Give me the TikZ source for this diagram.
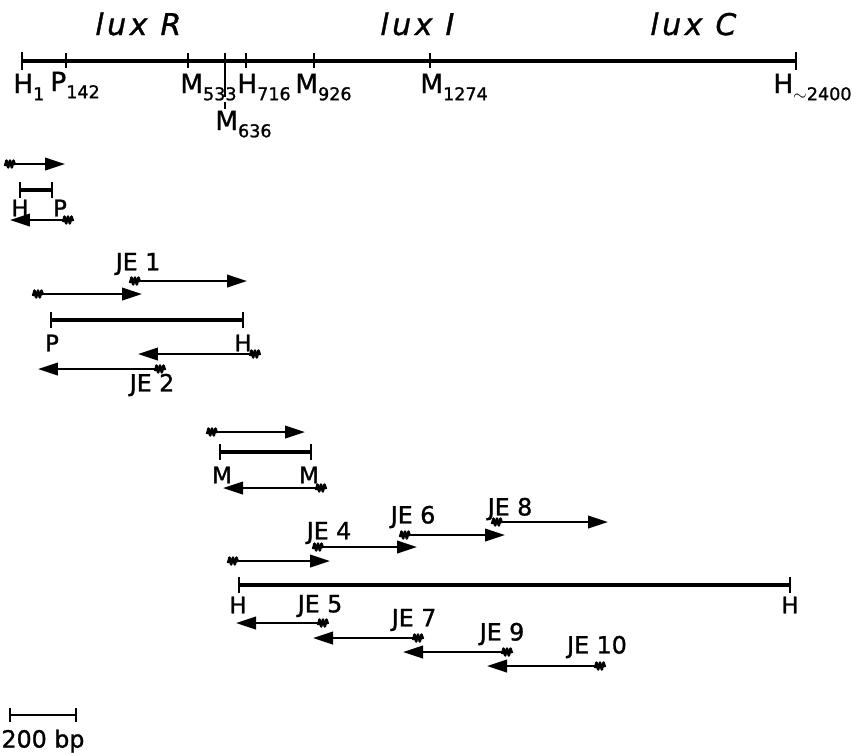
\documentclass[tikz,border=0pt]{standalone}
\usepackage{fontspec}
\setmainfont{DejaVu Sans}[FakeBold=1.2]
\newfontfamily\luxfont[LetterSpace=12,FakeBold=1.2]{DejaVu Sans}
\usetikzlibrary{arrows.meta}
\newcommand\lowsub[1]{\raisebox{-0.5ex}{\fontsize{10}{10}\selectfont #1}}

\tikzset{
  tail/.pic={\draw[line width=1.4pt, line join=round]
    (-5,2) -- (-3.5,-3.5) -- (-1.8,3.5) -- (0,-3.5) -- (1.8,3.5) -- (3.5,-3.5) -- (5,1);},
}

\begin{document}
\begin{tikzpicture}[x=0.02cm, y=-0.02cm, >={Triangle[length=0.4cm,width=0.25cm]},
  every node/.style={font=\fontsize{13.5}{13.5}\selectfont, inner sep=0pt},
  maplbl/.style={font=\fontsize{15}{15}\selectfont, anchor=base west},
  luxlbl/.style={font=\luxfont\itshape\fontsize{17}{17}\selectfont, anchor=base west},
  fraglbl/.style={font=\fontsize{13}{13}\selectfont},
  frag/.style={line width=1.3pt, ->},
  bar/.style={line width=2.6pt},
  tick/.style={line width=1.4pt}]
  \useasboundingbox (0,0) rectangle (861,752);

  % gene map
  \node[luxlbl] (luxR) at (95,35) {lux R};
  \node[luxlbl] (luxI) at (380,35) {lux I};
  \node[luxlbl] (luxC) at (650,35) {lux C};
  \draw[bar] (22,61) -- (796,61);
  \foreach \x in {22,796}
    \draw[tick] (\x,52) -- (\x,70);
  \foreach \x in {66,188,246,314,430}
    \draw[tick] (\x,53) -- (\x,68);
  \draw[tick] (225,53) -- (225,97);
  \draw[tick] (225,102) -- (225,109);
  \node[maplbl] (h1) at (13,93) {H\lowsub{1}};
  \node[maplbl] (p142) at (50,91) {P\lowsub{142}};
  \node[maplbl] (m533) at (180,93) {M\lowsub{533}};
  \node[maplbl] (h716) at (237,93) {H\lowsub{716}};
  \node[maplbl] (m926) at (295,93) {M\lowsub{926}};
  \node[maplbl] (m1274) at (420,93) {M\lowsub{1274}};
  \node[maplbl] (h2400) at (773,93) {H\lowsub{$\sim$2400}};
  \node[maplbl] (m636) at (215,130) {M\lowsub{636}};

  % restriction fragments
  \foreach \a/\b/\y in {20/52/190, 51/243/320, 220/311/452, 239/790/585} {
    \draw[bar] (\a,\y) -- (\b,\y);
    \draw[tick] (\a,\y-8) -- (\a,\y+8);
    \draw[tick] (\b,\y-8) -- (\b,\y+8);
  }
  \node[fraglbl] (fh1) at (20,208) {H};
  \node[fraglbl] (fp1) at (60,208) {P};
  \node[fraglbl] (fp2) at (52,343) {P};
  \node[fraglbl] (fh2) at (243,343) {H};
  \node[fraglbl] (fm1) at (222,475) {M};
  \node[fraglbl] (fm2) at (309,475) {M};
  \node[fraglbl] (fh3) at (238,605) {H};
  \node[fraglbl] (fh4) at (790,605) {H};

  % sequencing runs
  \foreach \a/\b/\y in {10/65/164, 135/247/281, 38/142/294, 212/305/432,
      318/417/547, 405/505/535, 497/608/522, 233/330/561,
      68/10/220, 255/138/354, 160/38/369, 321/223/488,
      323/236/623, 418/313/638, 507/403/652, 600/487/666} {
    \draw[frag] (\a,\y) -- (\b,\y);
    \pic at (\a,\y) {tail};
  }
  \node (je1) at (138,264) {JE 1};
  \node (je2) at (152,385) {JE 2};
  \node (je4) at (329,533) {JE 4};
  \node (je6) at (413,517) {JE 6};
  \node (je8) at (510,509) {JE 8};
  \node (je5) at (320,606) {JE 5};
  \node (je7) at (414,620) {JE 7};
  \node (je9) at (502,634) {JE 9};
  \node (je10) at (597,647) {JE 10};

  % scale
  \draw[line width=1.3pt] (10,715) -- (76,715);
  \draw[tick] (10,708) -- (10,722);
  \draw[tick] (76,708) -- (76,722);
  \node (scale) at (43,741) {200 bp};
\end{tikzpicture}
\end{document}
